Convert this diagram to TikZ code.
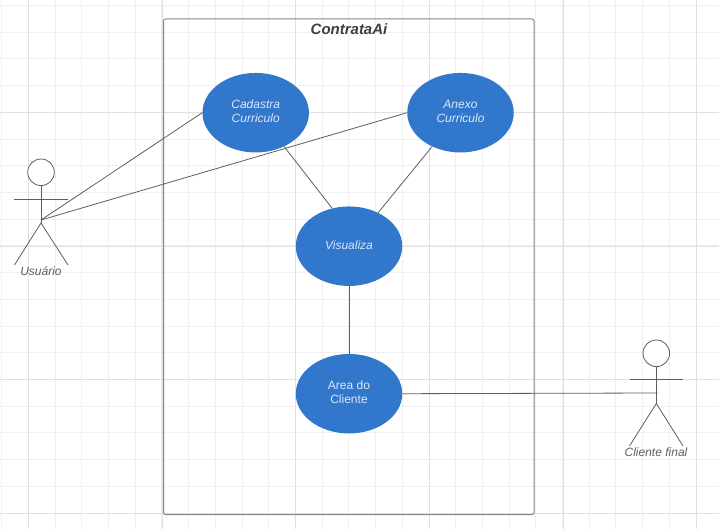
\documentclass[tikz,border=0pt]{standalone}
\usepackage{fontspec}
\setmainfont{Liberation Sans}
\usetikzlibrary{shapes.geometric}
\definecolor{usecase}{HTML}{3177CC}
\definecolor{ink}{HTML}{5E5E5E}
\definecolor{gridminor}{HTML}{F0F0F0}
\definecolor{gridmajor}{HTML}{E0E0E0}
\definecolor{caselabel}{HTML}{DCE8FA}
\tikzset{
  x=1pt,y=-1pt,
  minorgrid/.style={draw=gridminor,line width=0.9pt},
  majorgrid/.style={draw=gridmajor,line width=0.9pt},
  usecasenode/.style={ellipse,fill=usecase,draw=none,inner sep=0pt,minimum width=106.5pt,minimum height=79.5pt,
    align=center,text=caselabel,text depth=3pt,font=\fontsize{12}{14.5}\selectfont\itshape},
  plaincase/.style={usecasenode,font=\fontsize{12}{14.5}\selectfont},
  framebox/.style={draw=ink!75,line width=1pt,rounded corners=2pt,fill=none,inner sep=0pt,minimum width=370.5pt,minimum height=495.5pt},
  conn/.style={draw=ink,line width=0.8pt},
  actorhead/.style={circle,draw=ink,line width=0.8pt,fill=white,inner sep=0pt,minimum size=26.6pt},
  actorline/.style={draw=ink,line width=0.8pt},
  actorlabel/.style={text=ink,font=\fontsize{12}{14}\selectfont\itshape,inner sep=0pt},
  titlelabel/.style={text=black!75,font=\fontsize{15}{18}\selectfont\bfseries\itshape,inner sep=0pt},
}
\begin{document}
\begin{tikzpicture}
\useasboundingbox (0,0) rectangle (719,529);
\fill[white] (0,0) rectangle (719,529);
% background grid
\foreach \i in {0,...,26} {
  \pgfmathsetmacro{\gx}{1.6+26.71*\i}
  \draw[minorgrid] (\gx,0) -- (\gx,529);
}
\foreach \i in {0,...,19} {
  \pgfmathsetmacro{\gy}{5.5+26.71*\i}
  \draw[minorgrid] (0,\gy) -- (719,\gy);
}
\foreach \gx in {28.3,162,295.7,429.3,563,696.7} { \draw[majorgrid] (\gx,0) -- (\gx,529); }
\foreach \gy in {112.3,246,379.6,513.2} { \draw[majorgrid] (0,\gy) -- (719,\gy); }

% system frame
\node[framebox] (sys) at (348.75,266.75) {};
\node[titlelabel] (title) at (349,29.5) {ContrataAi};

% use cases
\node[usecasenode] (cad) at (255.7,112.7) {Cadastra\\Curriculo};
\node[usecasenode] (anx) at (460.5,112.7) {Anexo\\Curriculo};
\node[usecasenode] (vis) at (349,246.2) {Visualiza};
\node[plaincase] (area) at (349,393.7) {Area do\\Cliente};

% actor: Usuario
\node[actorhead] (uhead) at (41,172.3) {};
\coordinate (uhub) at (41,220);
\coordinate (uhip) at (41,223);
\coordinate (ularm) at (14,199);
\coordinate (urarm) at (68,199);
\coordinate (ulleg) at (14.5,265);
\coordinate (urleg) at (68,265);
\draw[actorline] (uhead.south) -- (uhip);
\draw[actorline] (ularm) -- (urarm);
\draw[actorline] (ulleg) -- (uhip) -- (urleg);
\node[actorlabel] (ulabel) at (41,271.5) {Usuário};

% actor: Cliente final
\node[actorhead] (chead) at (656.3,353.3) {};
\coordinate (chub) at (657.5,393);
\coordinate (chip) at (656.3,403.5);
\coordinate (clarm) at (630,379.5);
\coordinate (crarm) at (683,379.5);
\coordinate (clleg) at (629.5,446);
\coordinate (crleg) at (683,446);
\draw[actorline] (chead.south) -- (chip);
\draw[actorline] (clarm) -- (crarm);
\draw[actorline] (clleg) -- (chip) -- (crleg);
\node[actorlabel] (clabel) at (656,452) {Cliente final};

% connectors
\draw[conn] (cad.west) -- (uhub);
\draw[conn] (anx.west) -- (uhub);
\draw[conn] (cad.-50) -- (vis.114);
\draw[conn] (anx.230) -- (vis.49.5);
\draw[conn] (vis.south) -- (area.north);
\draw[conn] (area.east) -- (chub);
\end{tikzpicture}
\end{document}
